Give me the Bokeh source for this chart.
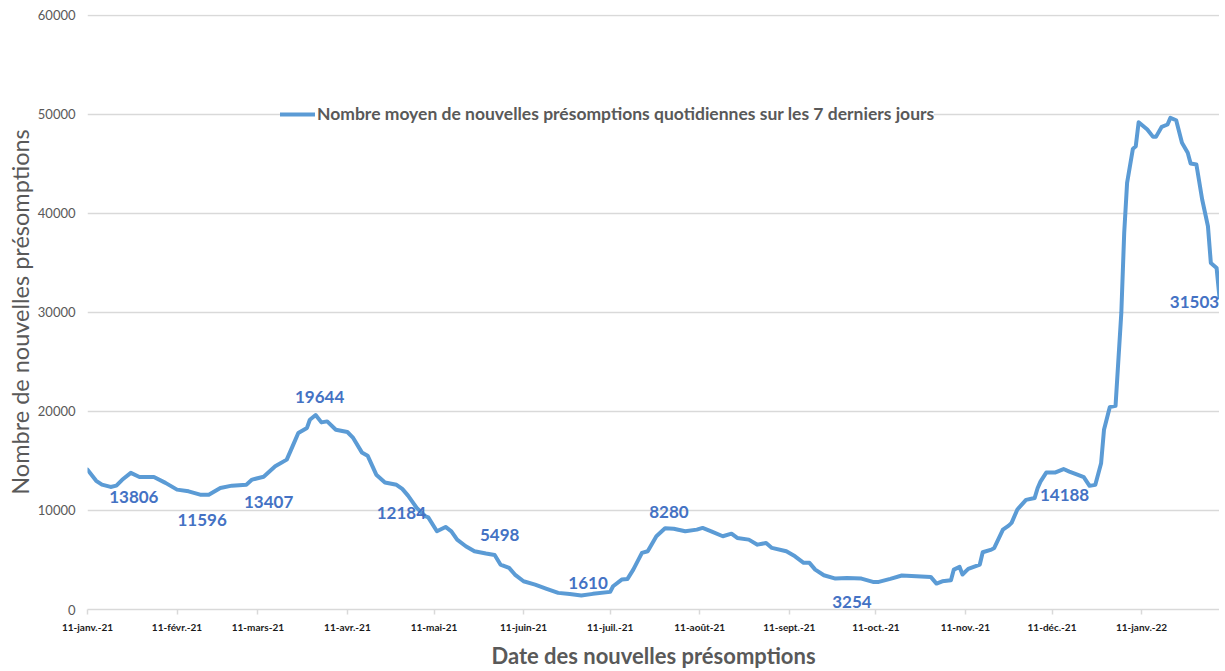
import pandas as pd
from bokeh.plotting import figure
from bokeh.models import (ColumnDataSource, FixedTicker, Legend, LegendItem,
                          LabelSet, Range1d, Title)
from bokeh.core.properties import value
from bokeh.embed import file_html
from bokeh.resources import INLINE

# ---------------- data ----------------
dates = [
    "2021-01-11", "2021-01-14", "2021-01-16", "2021-01-19", "2021-01-21", "2021-01-23",
    "2021-01-26", "2021-01-29", "2021-02-03", "2021-02-07", "2021-02-11", "2021-02-15",
    "2021-02-19", "2021-02-22", "2021-02-26", "2021-03-02", "2021-03-07", "2021-03-09",
    "2021-03-13", "2021-03-17", "2021-03-21", "2021-03-23", "2021-03-25", "2021-03-28",
    "2021-03-29", "2021-03-31", "2021-04-02", "2021-04-04", "2021-04-07", "2021-04-11",
    "2021-04-13", "2021-04-16", "2021-04-18", "2021-04-21", "2021-04-24", "2021-04-28",
    "2021-04-30", "2021-05-02", "2021-05-05", "2021-05-08", "2021-05-09", "2021-05-12",
    "2021-05-15", "2021-05-17", "2021-05-19", "2021-05-22", "2021-05-25", "2021-05-29",
    "2021-06-01", "2021-06-03", "2021-06-06", "2021-06-08", "2021-06-11", "2021-06-15",
    "2021-06-19", "2021-06-23", "2021-06-27", "2021-07-01", "2021-07-05", "2021-07-11",
    "2021-07-12", "2021-07-15", "2021-07-17", "2021-07-19", "2021-07-22", "2021-07-24",
    "2021-07-27", "2021-07-30", "2021-08-02", "2021-08-06", "2021-08-10", "2021-08-12",
    "2021-08-15", "2021-08-19", "2021-08-22", "2021-08-24", "2021-08-28", "2021-08-31",
    "2021-09-03", "2021-09-05", "2021-09-10", "2021-09-13", "2021-09-16", "2021-09-18",
    "2021-09-20", "2021-09-23", "2021-09-27", "2021-10-01", "2021-10-06", "2021-10-10",
    "2021-10-12", "2021-10-16", "2021-10-20", "2021-10-25", "2021-10-30", "2021-11-01",
    "2021-11-03", "2021-11-06", "2021-11-07", "2021-11-09", "2021-11-10", "2021-11-12",
    "2021-11-16", "2021-11-17", "2021-11-20", "2021-11-21", "2021-11-24", "2021-11-26",
    "2021-11-27", "2021-11-29", "2021-12-02", "2021-12-05", "2021-12-06", "2021-12-07",
    "2021-12-09", "2021-12-12", "2021-12-15", "2021-12-17", "2021-12-20", "2021-12-22",
    "2021-12-24", "2021-12-26", "2021-12-28", "2021-12-29", "2021-12-31", "2022-01-02",
    "2022-01-04", "2022-01-05", "2022-01-06", "2022-01-08", "2022-01-09", "2022-01-10",
    "2022-01-13", "2022-01-15", "2022-01-16", "2022-01-18", "2022-01-20", "2022-01-21",
    "2022-01-23", "2022-01-25", "2022-01-27", "2022-01-28", "2022-01-30", "2022-02-01",
    "2022-02-03", "2022-02-04", "2022-02-06", "2022-02-07",
]
values = [
    14130, 13000, 12610, 12380, 12510, 13100,
    13806, 13390, 13390, 12790, 12110, 11940,
    11596, 11600, 12280, 12510, 12610, 13120,
    13407, 14460, 15140, 16480, 17830, 18340,
    19170, 19644, 18900, 19000, 18160, 17930,
    17330, 15870, 15540, 13620, 12830, 12600,
    12184, 11500, 10260, 9420, 9300, 7900,
    8340, 7900, 7060, 6390, 5880, 5650,
    5498, 4540, 4200, 3530, 2850, 2520,
    2090, 1680, 1560, 1420, 1580, 1780,
    2350, 3020, 3090, 4030, 5720, 5880,
    7400, 8200, 8150, 7900, 8070, 8240,
    7900, 7400, 7660, 7230, 7060, 6550,
    6720, 6220, 5880, 5370, 4710, 4710,
    4030, 3460, 3120, 3190, 3120, 2790,
    2790, 3090, 3430, 3360, 3290, 2620,
    2850, 2950, 4030, 4300, 3530, 4100,
    4540, 5780, 6050, 6220, 8070, 8470,
    8750, 10100, 11070, 11270, 12250, 12920,
    13830, 13830, 14188, 13930, 13600, 13370,
    12490, 12590, 14780, 18150, 20440, 20580,
    29950, 38040, 43090, 46530, 46800, 49220,
    48480, 47740, 47740, 48760, 48990, 49660,
    49420, 47140, 46130, 45050, 44950, 41410,
    38710, 35010, 34500, 31503,
]

label_dates = ["2021-01-26", "2021-02-19", "2021-03-13", "2021-03-31", "2021-04-29",
               "2021-06-01", "2021-07-03", "2021-07-31", "2021-10-01", "2021-12-15",
               "2022-02-07"]
label_values = [13806, 11596, 13407, 19644, 12184, 5498, 1610, 8280, 3254, 14188, 31503]
# screen offsets of each data label (px, up positive)
label_dx = [3, 2, 5, 4, 2, 5, 1, 1, 5, 1, -25]
label_dy = [-24, -25, -25, 18, -24, 20, 11, 16, -25, -26, -4]

tick_dates = ["2021-01-11", "2021-02-11", "2021-03-11", "2021-04-11", "2021-05-11",
              "2021-06-11", "2021-07-11", "2021-08-11", "2021-09-11", "2021-10-11",
              "2021-11-11", "2021-12-11", "2022-01-11"]
tick_labels = ["11-janv.-21", "11-févr.-21", "11-mars-21", "11-avr.-21", "11-mai-21",
               "11-juin-21", "11-juil.-21", "11-août-21", "11-sept.-21", "11-oct.-21",
               "11-nov.-21", "11-déc.-21", "11-janv.-22"]
y_ticks = [0, 10000, 20000, 30000, 40000, 50000, 60000]

series_name = "Nombre moyen de nouvelles présomptions quotidiennes sur les 7 derniers jours"
x_title = "Date des nouvelles présomptions"
y_title = "Nombre de nouvelles présomptions"

# ---------------- build ----------------
def ms(d):
    return float(pd.Timestamp(d).value // 10**6)

FONT = "Lato"
LINE_COLOR = "#5B9BD5"
LABEL_COLOR = "#4472C4"
GRID = "#d9d9d9"

src = ColumnDataSource(dict(x=pd.to_datetime(dates), y=values))
lsrc = ColumnDataSource(dict(x=pd.to_datetime(label_dates), y=label_values,
                             text=[str(v) for v in label_values],
                             dx=label_dx, dy=label_dy))

p = figure(x_axis_type="datetime", output_backend="svg", toolbar_location=None,
           frame_width=1132, frame_height=595,
           x_range=Range1d(ms(dates[0]), ms(dates[-1])),
           y_range=Range1d(0, 60101))
p.min_border_left = 87
p.min_border_right = 0
p.min_border_top = 14
p.min_border_bottom = 40
p.outline_line_color = None
p.background_fill_color = "white"
p.border_fill_color = "white"

r = p.line("x", "y", source=src, line_color=LINE_COLOR, line_width=4,
           line_join="round", line_cap="round")

labels = LabelSet(x="x", y="y", text="text", source=lsrc,
                  x_offset="dx", y_offset="dy",
                  text_align="center", text_baseline="middle",
                  text_font=value(FONT), text_font_style="bold",
                  text_font_size="17px", text_color=LABEL_COLOR)
p.add_layout(labels)

# grid
p.xgrid.grid_line_color = None
p.ygrid.grid_line_color = GRID
p.ygrid.grid_line_width = 1.5
p.yaxis.ticker = FixedTicker(ticks=y_ticks)

# y axis
p.yaxis.axis_line_color = None
p.yaxis.major_tick_line_color = None
p.yaxis.minor_tick_line_color = None
p.yaxis.major_tick_out = 0
p.yaxis.major_tick_in = 0
p.yaxis.major_label_standoff = 12
p.yaxis.major_label_text_font = FONT
p.yaxis.major_label_text_font_size = "13px"
p.yaxis.major_label_text_color = "#595959"

# y axis title (as a side title so it can be nudged to match the reference)
ytitle = Title(text=y_title, align="center", offset=-15, standoff=2,
               text_font=FONT, text_font_size="23.5px", text_font_style="normal",
               text_color="#595959")
p.add_layout(ytitle, "left")

# x axis
tick_ms = [ms(d) for d in tick_dates]
p.xaxis.ticker = FixedTicker(ticks=tick_ms)
p.xaxis.major_label_overrides = {t: lab for t, lab in zip(tick_ms, tick_labels)}
p.xaxis.axis_line_color = GRID
p.xaxis.axis_line_width = 1.5
p.xaxis.major_tick_line_color = GRID
p.xaxis.major_tick_line_width = 1.5
p.xaxis.major_tick_out = 5
p.xaxis.major_tick_in = 0
p.xaxis.minor_tick_line_color = None
p.xaxis.major_label_standoff = 6
p.xaxis.major_label_text_font = FONT
p.xaxis.major_label_text_font_size = "10px"
p.xaxis.major_label_text_font_style = "bold"
p.xaxis.major_label_text_color = "#1a1a1a"
p.xaxis.axis_label = x_title
p.xaxis.axis_label_text_font = FONT
p.xaxis.axis_label_text_font_size = "22px"
p.xaxis.axis_label_text_font_style = "bold"
p.xaxis.axis_label_text_color = "#595959"
p.xaxis.axis_label_standoff = 6

legend = Legend(items=[LegendItem(label=series_name, renderers=[r])],
                location=(193, 485), orientation="horizontal",
                padding=2, margin=0, spacing=0,
                glyph_width=35, glyph_height=16, label_height=16,
                label_standoff=2,
                label_text_font=FONT, label_text_font_size="17.5px",
                label_text_font_style="bold", label_text_color="#595959",
                background_fill_color="white", background_fill_alpha=1.0,
                border_line_color=None)
p.add_layout(legend)

open("out.html", "w").write(file_html(p, INLINE))
